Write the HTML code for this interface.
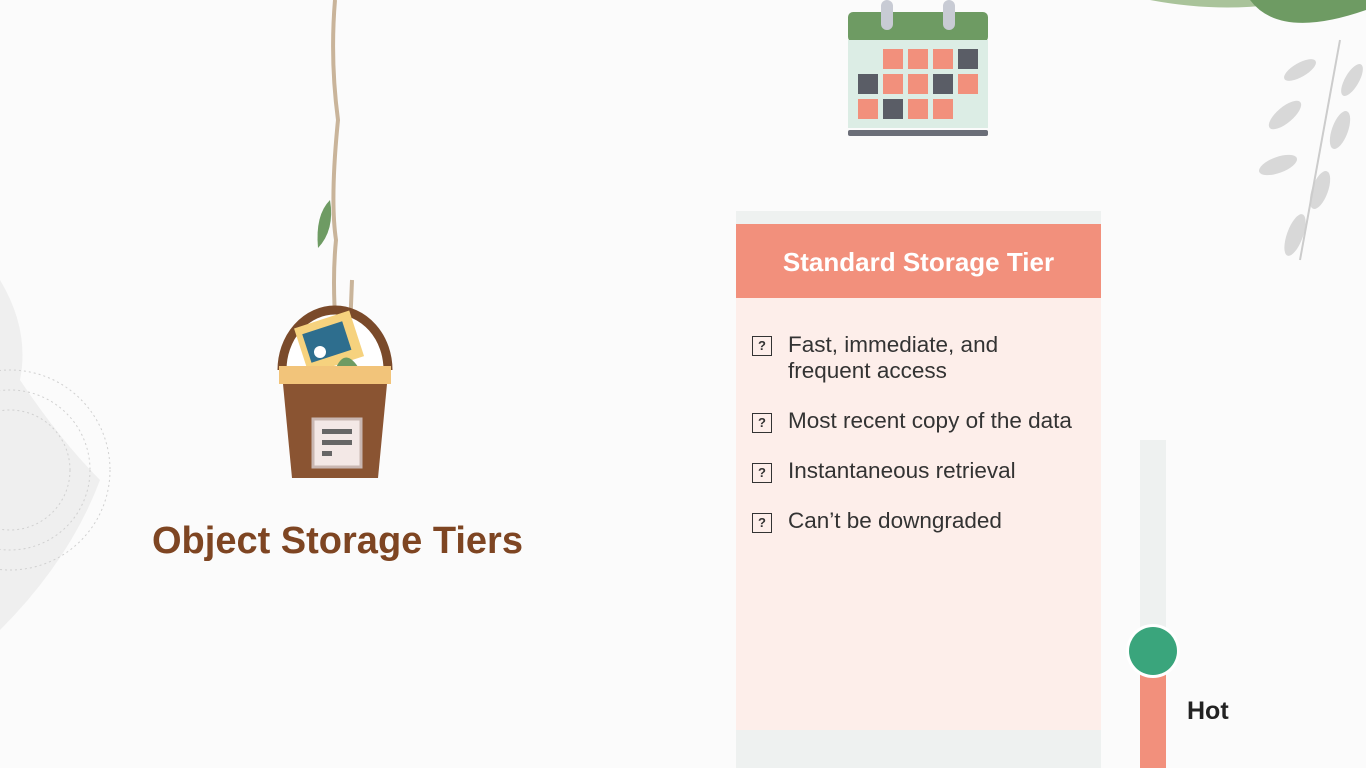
<!DOCTYPE html>
<html><head><meta charset="utf-8"><style>
body{margin:0;width:1366px;height:768px;overflow:hidden;background:#fbfbfb;font-family:"Liberation Sans",sans-serif;position:relative}
.abs{position:absolute}
.title{left:152px;top:520px;font-size:38px;font-weight:bold;color:#7e4522}
.card{left:736px;top:211px;width:365px;height:557px;background:#eef1f0}
.cardbody{left:736px;top:298px;width:365px;height:432px;background:#fdeeea}
.hdr{left:736px;top:224px;width:365px;height:74px;background:#f2907c;color:#fff;font-weight:bold;font-size:26px;text-align:center;line-height:76px}
.item{left:788px;font-size:22.5px;color:#333;line-height:26px}
.box{left:752px;width:20px;height:20px;border:1.5px solid #333;box-sizing:border-box;font-size:13px;font-weight:bold;text-align:center;line-height:18px;color:#333}
</style></head><body>
<svg class="abs" style="left:0;top:0" width="1366" height="768">
<path d="M0 280 Q30 330 20 380 Q60 440 100 480 Q70 560 0 630 Z" fill="#efefef"/>
<g fill="none" stroke="#d0d0d0" stroke-dasharray="2 3">
<circle cx="10" cy="470" r="100"/><circle cx="10" cy="470" r="80"/><circle cx="10" cy="470" r="60"/>
</g>
<path d="M1150 0 Q1230 15 1300 0 Z" fill="#a9c39a"/>
<path d="M1250 0 Q1280 40 1366 10 L1366 0Z" fill="#6e9b63"/>
<g fill="#d8d8d8">
<ellipse cx="1300" cy="70" rx="18" ry="7" transform="rotate(-30 1300 70)"/>
<ellipse cx="1352" cy="80" rx="18" ry="7" transform="rotate(-60 1352 80)"/>
<ellipse cx="1285" cy="115" rx="20" ry="8" transform="rotate(-40 1285 115)"/>
<ellipse cx="1340" cy="130" rx="20" ry="8" transform="rotate(-70 1340 130)"/>
<ellipse cx="1278" cy="165" rx="20" ry="8" transform="rotate(-20 1278 165)"/>
<ellipse cx="1320" cy="190" rx="20" ry="8" transform="rotate(-70 1320 190)"/>
<ellipse cx="1295" cy="235" rx="22" ry="8" transform="rotate(-70 1295 235)"/>
</g>
<path d="M1340 40 Q1320 150 1300 260" stroke="#ccc" fill="none" stroke-width="2"/>
<path d="M335 0 Q330 60 338 120 Q330 200 336 240 Q332 280 336 330" stroke="#c9b49a" stroke-width="4" fill="none"/>
<path d="M352 280 L350 330" stroke="#c9b49a" stroke-width="4"/>
<path d="M330 200 Q315 215 318 248 Q335 230 330 200Z" fill="#6e9b63"/>
<path d="M282 370 A53 60 0 0 1 388 370" stroke="#7a4a2a" stroke-width="9" fill="#fff"/>
<rect x="300" y="318" width="58" height="48" fill="#f6d27e" transform="rotate(-18 330 342)"/>
<rect x="306" y="326" width="42" height="30" fill="#2e6e8e" transform="rotate(-18 330 342)"/>
<circle cx="320" cy="352" r="6" fill="#fff"/>
<path d="M335 370 Q345 345 360 370Z" fill="#6e9b63"/>
<path d="M283 384 L387 384 L378 478 L292 478 Z" fill="#8a5432"/>
<rect x="279" y="366" width="112" height="18" fill="#f2c47a"/>
<rect x="313" y="419" width="48" height="48" fill="#f3e8e6" stroke="#c9b7b2" stroke-width="3"/>
<rect x="322" y="429" width="30" height="5" fill="#666"/><rect x="322" y="440" width="30" height="5" fill="#666"/><rect x="322" y="451" width="10" height="5" fill="#666"/>
<rect x="848" y="12" width="140" height="30" rx="5" fill="#6e9b63"/>
<rect x="848" y="40" width="140" height="88" fill="#dcede5"/>
<rect x="848" y="130" width="140" height="6" rx="2" fill="#6b6e78"/>
<rect x="881" y="0" width="12" height="30" rx="6" fill="#c8cbd4"/>
<rect x="943" y="0" width="12" height="30" rx="6" fill="#c8cbd4"/>
<g fill="#f2907c">
<rect x="883" y="49" width="20" height="20"/><rect x="908" y="49" width="20" height="20"/><rect x="933" y="49" width="20" height="20"/>
<rect x="883" y="74" width="20" height="20"/><rect x="908" y="74" width="20" height="20"/><rect x="958" y="74" width="20" height="20"/>
<rect x="858" y="99" width="20" height="20"/><rect x="908" y="99" width="20" height="20"/><rect x="933" y="99" width="20" height="20"/>
</g>
<g fill="#5a5d66">
<rect x="958" y="49" width="20" height="20"/><rect x="858" y="74" width="20" height="20"/><rect x="933" y="74" width="20" height="20"/><rect x="883" y="99" width="20" height="20"/>
</g>
<rect x="1140" y="440" width="26" height="328" fill="#eef1f0"/>
<rect x="1140" y="672" width="26" height="96" fill="#f2907c"/>
<circle cx="1153" cy="651" r="27" fill="#fff"/>
<circle cx="1153" cy="651" r="24" fill="#3aa57c"/>
</svg>
<div class="abs title">Object Storage Tiers</div>
<div class="abs card"></div>
<div class="abs cardbody"></div>
<div class="abs hdr">Standard Storage Tier</div>
<div class="abs box" style="top:336px">?</div>
<div class="abs item" style="top:332px">Fast, immediate, and<br>frequent access</div>
<div class="abs box" style="top:413px">?</div>
<div class="abs item" style="top:408px">Most recent copy of the data</div>
<div class="abs box" style="top:463px">?</div>
<div class="abs item" style="top:458px">Instantaneous retrieval</div>
<div class="abs box" style="top:513px">?</div>
<div class="abs item" style="top:508px">Can’t be downgraded</div>
<div class="abs" style="left:1187px;top:697px;font-size:25px;font-weight:bold;color:#222">Hot</div>
</body></html>
